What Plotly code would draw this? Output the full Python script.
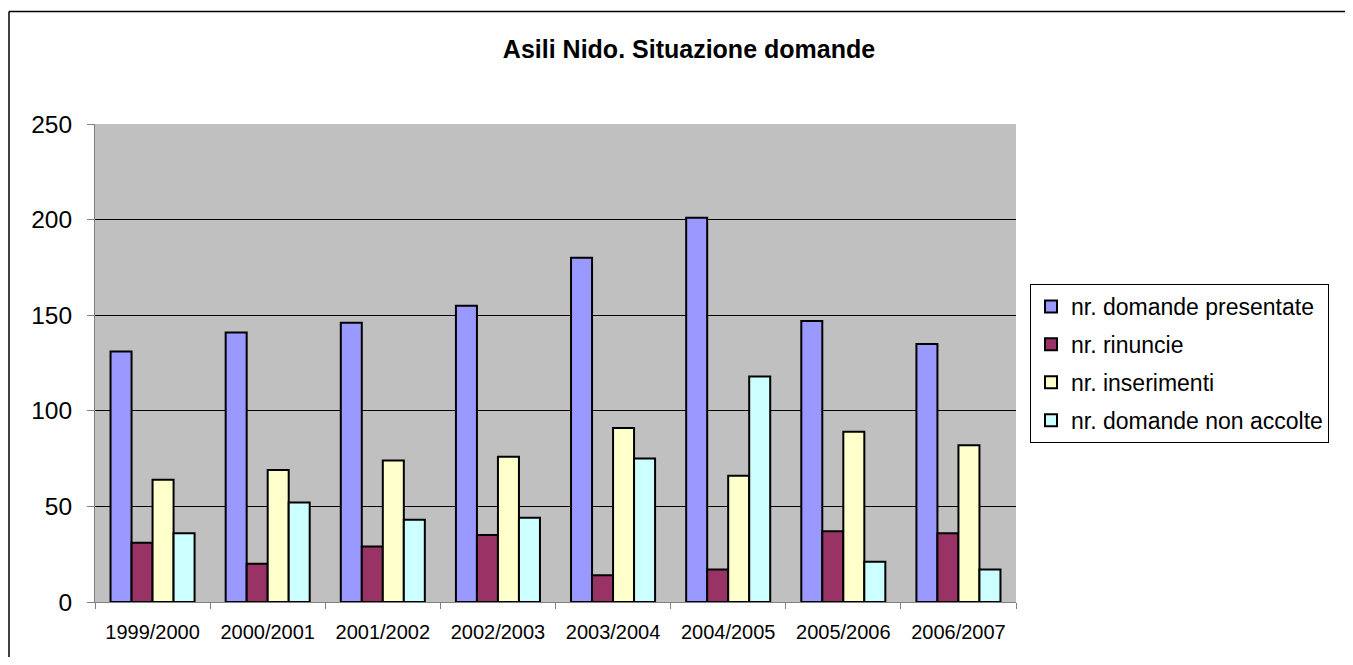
import plotly.graph_objects as go

categories = ["1999/2000", "2000/2001", "2001/2002", "2002/2003",
              "2003/2004", "2004/2005", "2005/2006", "2006/2007"]
domande_presentate = [131, 141, 146, 155, 180, 201, 147, 135]
rinuncie = [31, 20, 29, 35, 14, 17, 37, 36]
inserimenti = [64, 69, 74, 76, 91, 66, 89, 82]
non_accolte = [36, 52, 43, 44, 75, 118, 21, 17]

series = [
    ("nr. domande presentate", domande_presentate, "#9999FF"),
    ("nr. rinuncie", rinuncie, "#993366"),
    ("nr. inserimenti", inserimenti, "#FFFFCC"),
    ("nr. domande non accolte", non_accolte, "#CCFFFF"),
]

# page has an 8px body margin: figure coords = screen coords - 8
OFF = 8
W, H = 1353 - 2 * OFF, 665 - 2 * OFF
L, R, T, B = 95 - OFF, 1016 - OFF, 124 - OFF, 602 - OFF
pw, ph = R - L, B - T

fig = go.Figure()
for i, (name, vals, col) in enumerate(series):
    fig.add_trace(go.Bar(x=categories, y=vals, name=name, legendgroup=f"g{i}",
                         marker=dict(color=col, line=dict(color="black", width=2))))

def px_x(sx):
    return (sx - OFF - L) / pw

def px_y(sy):
    return (B - (sy - OFF)) / ph

fig.update_layout(
    width=W, height=H,
    margin=dict(l=L, r=W - R, t=T, b=H - B, pad=0),
    paper_bgcolor="white",
    plot_bgcolor="#C0C0C0",
    font=dict(family="Arial, Liberation Sans, sans-serif", color="black"),
    barmode="group", bargap=0.27, bargroupgap=0,
    title=dict(text="<b>Asili Nido. Situazione domande</b>", x=(689 - OFF) / W, xanchor="center",
               y=1 - (49 - OFF) / H, yanchor="middle", font=dict(size=25)),
    showlegend=True,
    legend=dict(x=px_x(1030), y=px_y(284), xanchor="left", yanchor="top",
                bordercolor="black", borderwidth=1, bgcolor="white",
                font=dict(size=23), traceorder="grouped", tracegroupgap=5, itemwidth=30),
    xaxis=dict(showgrid=False, ticks="outside", ticklen=6, tickcolor="#808080",
               tickson="boundaries", showline=True, linecolor="#808080", linewidth=1,
               tickfont=dict(size=20), ticklabelstandoff=12),
    yaxis=dict(range=[0, 250], dtick=50, showgrid=True, gridcolor="black", gridwidth=1,
               ticks="outside", ticklen=7, tickcolor="#808080", showline=True,
               linecolor="#808080", linewidth=1, tickfont=dict(size=24.5), zeroline=False,
               ticklabelstandoff=10),
    shapes=[
        dict(type="line", xref="paper", yref="paper",
             x0=px_x(9), x1=px_x(1353), y0=px_y(11.5), y1=px_y(11.5),
             line=dict(color="black", width=1.5), layer="below"),
        dict(type="line", xref="paper", yref="paper",
             x0=px_x(9), x1=px_x(9), y0=px_y(11.5), y1=px_y(665),
             line=dict(color="black", width=1.5), layer="below"),
    ],
)

fig.write_html("out.html")
